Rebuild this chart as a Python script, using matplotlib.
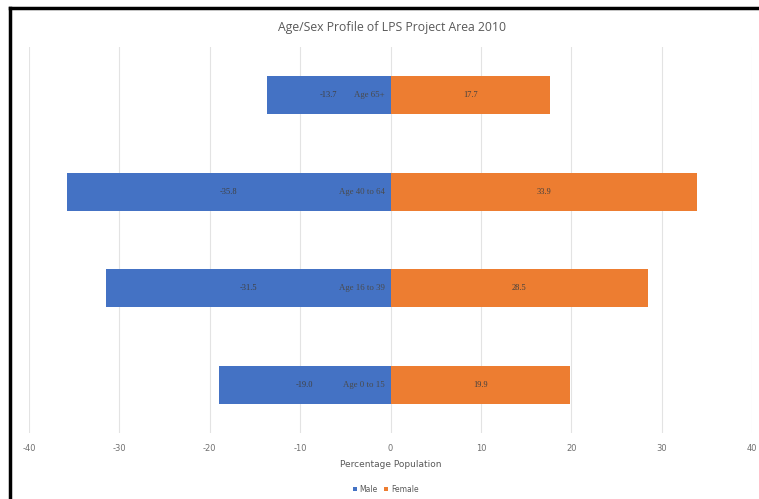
import matplotlib.pyplot as plt
from matplotlib.lines import Line2D
import numpy as np

# data
age_groups = ['Age 0 to 15', 'Age 16 to 39', 'Age 40 to 64', 'Age 65+']
male = [-19.0, -31.5, -35.8, -13.7]
female = [19.9, 28.5, 33.9, 17.7]
xticks = [-40, -30, -20, -10, 0, 10, 20, 30, 40]

blue = '#4472C4'
orange = '#ED7D31'
grey = '#595959'

fig = plt.figure(figsize=(7.59, 4.99), dpi=100)
ax = fig.add_axes([0.0382, 0.1323, 0.9526, 0.7735])

y = np.arange(len(age_groups))
bar_h = 0.39
bm = ax.barh(y, male, height=bar_h, color=blue, label='Male', zorder=3)
bf = ax.barh(y, female, height=bar_h, color=orange, label='Female', zorder=3)

for i in range(len(y)):
	ax.text(male[i] / 2, y[i], '%.1f' % male[i], ha='center', va='center',
		fontsize=6, family='Liberation Serif', color='#404040', zorder=4)
	ax.text(female[i] / 2, y[i], '%.1f' % female[i], ha='center', va='center',
		fontsize=6, family='Liberation Serif', color='#404040', zorder=4)
	ax.text(-0.6, y[i], age_groups[i], ha='right', va='center',
		fontsize=6.3, family='Liberation Serif', color='#4a4a4a', zorder=4)

ax.set_xlim(-40, 40)
ax.set_ylim(-0.5, 3.5)
ax.set_xticks(xticks)
ax.set_xticklabels([str(t) for t in xticks], fontsize=6, color='#707070')
ax.set_yticks([])
ax.tick_params(axis='x', length=0, pad=8)
ax.grid(axis='x', color='#E3E3E3', linewidth=0.8, zorder=0)
for s in ax.spines.values():
	s.set_visible(False)

ax.set_xlabel('Percentage Population', fontsize=6.5, color=grey, labelpad=5)
fig.text(0.516, 0.945, 'Age/Sex Profile of LPS Project Area 2010', ha='center',
	va='center', fontsize=8.8, color=grey, family='Open Sans')

leg = fig.legend(handles=[bm, bf], loc='center', bbox_to_anchor=(0.508, 0.02),
	ncol=2, frameon=False, fontsize=5.5, handlelength=0.5, handleheight=0.5,
	handletextpad=0.4, columnspacing=0.8)
for t in leg.get_texts():
	t.set_color(grey)

# frame lines at left and top
fig.add_artist(Line2D([0.0135, 0.0135], [0.0, 0.984], color='black', linewidth=2.5,
	transform=fig.transFigure))
fig.add_artist(Line2D([0.0135, 1.0], [0.984, 0.984], color='black', linewidth=2.5,
	transform=fig.transFigure))

fig.savefig('out.png', dpi=100)
